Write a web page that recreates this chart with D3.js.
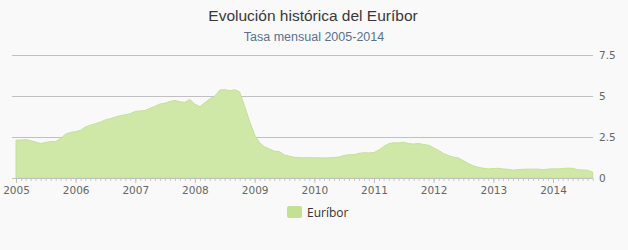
<!DOCTYPE html>
<meta charset="utf-8">
<script src="https://d3js.org/d3.v7.min.js"></script>
<style>
  body { margin: 0; background: #f9f9f9; }
  svg { display: block; }
</style>
<div id="chart"></div>
<script>

// Euríbor a 12 meses, media mensual, enero 2005 - septiembre 2014
var inicio = new Date(2005, 0, 1);
var euribor = [
  2.31, 2.31, 2.34, 2.27, 2.19, 2.10, 2.17, 2.22, 2.22, 2.41, 2.68, 2.78,
  2.83, 2.91, 3.11, 3.22, 3.31, 3.40, 3.54, 3.62, 3.72, 3.80, 3.86, 3.92,
  4.06, 4.09, 4.11, 4.25, 4.37, 4.51, 4.56, 4.67, 4.73, 4.65, 4.61, 4.79,
  4.50, 4.35, 4.59, 4.82, 4.99, 5.36, 5.39, 5.32, 5.38, 5.25, 4.35, 3.45,
  2.62, 2.14, 1.91, 1.77, 1.64, 1.61, 1.41, 1.33, 1.26, 1.24, 1.23, 1.24,
  1.23, 1.23, 1.22, 1.23, 1.25, 1.28, 1.37, 1.42, 1.42, 1.50, 1.54, 1.53,
  1.55, 1.71, 1.92, 2.09, 2.15, 2.14, 2.18, 2.10, 2.07, 2.11, 2.04, 2.00,
  1.84, 1.68, 1.50, 1.37, 1.27, 1.22, 1.06, 0.88, 0.74, 0.65, 0.59, 0.55,
  0.58, 0.59, 0.55, 0.53, 0.48, 0.51, 0.53, 0.54, 0.54, 0.54, 0.51, 0.54,
  0.56, 0.55, 0.58, 0.60, 0.59, 0.51, 0.49, 0.47, 0.36
];
var anios = [2005, 2006, 2007, 2008, 2009, 2010, 2011, 2012, 2013, 2014];
var yTicks = [0, 2.5, 5, 7.5];

var data = euribor.map(function(v, i) {
  return { fecha: d3.timeMonth.offset(inicio, i), valor: v };
});

var width = 628, height = 250;
var color = "#cfe8a8";

var svg = d3.select("#chart")
  .append("svg")
    .attr("width", width)
    .attr("height", height);

// scales
var x = d3.scaleTime()
  .domain([new Date(anios[0], 0, 1), new Date(anios[anios.length - 1], 0, 1)])
  .range([16, 553]);

var y = d3.scaleLinear()
  .domain([0, 7.5])
  .range([178, 55]);

// gridlines + right axis labels
var yAxis = svg.append("g")
  .attr("transform", "translate(593,0)")
  .call(d3.axisRight(y).tickValues(yTicks).tickSize(-581).tickPadding(6)
    .tickFormat(function(d) { return String(d); }));
yAxis.select(".domain").remove();
yAxis.selectAll("line").attr("stroke", "#c0c0c0");
yAxis.selectAll("text")
  .attr("fill", "#666")
  .style("font-family", "DejaVu Sans")
  .style("font-size", "10.5px");
yAxis.selectAll(".tick").filter(function(d) { return d === 0; })
  .select("line").remove();

// area
var area = d3.area()
  .x(function(d) { return x(d.fecha); })
  .y0(y(0))
  .y1(function(d) { return y(d.valor); });

svg.append("path")
  .datum(data)
  .attr("d", area)
  .attr("fill", color)
  .attr("stroke", "#c4e098")
  .attr("stroke-width", 1);

// x axis: minor monthly ticks
var ultimo = data[data.length - 1].fecha;
var xMinor = svg.append("g")
  .attr("transform", "translate(0," + y(0) + ")")
  .call(d3.axisBottom(x).tickValues(d3.timeMonth.range(inicio, d3.timeMonth.offset(ultimo, 1)))
    .tickSize(3).tickFormat(""));
xMinor.select(".domain").remove();
xMinor.selectAll("line").attr("stroke", "#c8c8c8");

// x axis: years
var xAxis = svg.append("g")
  .attr("transform", "translate(0," + y(0) + ")")
  .call(d3.axisBottom(x)
    .tickValues(anios.map(function(a) { return new Date(a, 0, 1); }))
    .tickSize(5).tickPadding(4)
    .tickFormat(d3.timeFormat("%Y")));
xAxis.select(".domain")
  .attr("d", "M12,0.5H" + x(ultimo))
  .attr("stroke", "#c0c0c0");
xAxis.selectAll("line").attr("stroke", "#c0c0c0");
xAxis.selectAll("text")
  .attr("fill", "#666")
  .style("font-family", "DejaVu Sans")
  .style("font-size", "10.5px");

// title
svg.append("text")
  .attr("x", 313)
  .attr("y", 21)
  .attr("text-anchor", "middle")
  .style("font-family", "Liberation Sans")
  .style("font-size", "15.5px")
  .attr("fill", "#383838")
  .text("Evolución histórica del Euríbor");

svg.append("text")
  .attr("x", 314)
  .attr("y", 41)
  .attr("text-anchor", "middle")
  .style("font-family", "Liberation Sans")
  .style("font-size", "12.5px")
  .attr("fill", "#58728f")
  .text("Tasa mensual 2005-2014");

// legend
var legend = svg.append("g").attr("transform", "translate(287,206)");
legend.append("rect")
  .attr("width", 15)
  .attr("height", 12)
  .attr("rx", 2)
  .attr("fill", "#c3e093");
legend.append("text")
  .attr("x", 20)
  .attr("y", 11)
  .style("font-family", "Open Sans")
  .style("font-size", "12px")
  .attr("fill", "#333")
  .text("Euríbor");

</script>
